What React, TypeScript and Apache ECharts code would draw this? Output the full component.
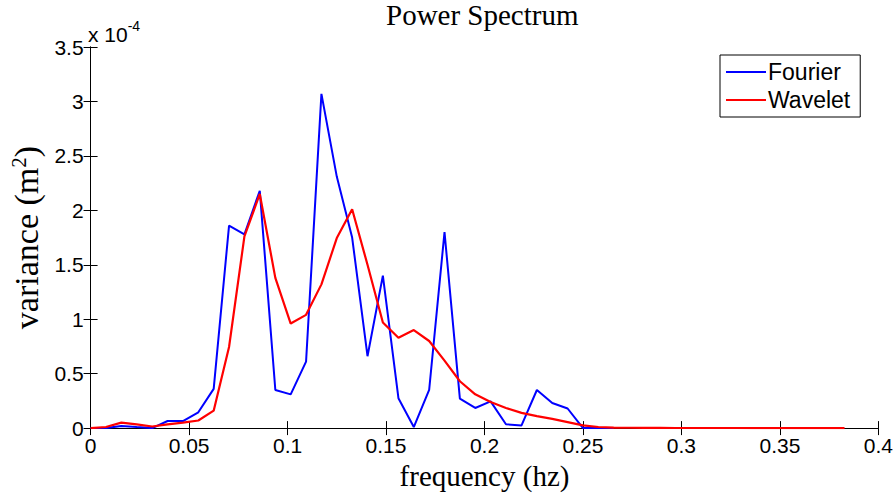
import React, { useEffect, useRef } from "react";
import * as echarts from "echarts";

// frequency grid (Hz)
const frequencies = [
  0, 0.0078, 0.0156, 0.0234, 0.0313, 0.0391, 0.0469, 0.0547, 0.0625, 0.0703,
  0.0781, 0.0859, 0.0938, 0.1016, 0.1094, 0.1172, 0.125, 0.1328, 0.1406, 0.1484,
  0.1563, 0.1641, 0.1719, 0.1797, 0.1875, 0.1953, 0.2031, 0.2109, 0.2188, 0.2266,
  0.2344, 0.2422, 0.25, 0.2578, 0.2656, 0.2734, 0.2813, 0.2891, 0.2969, 0.3047,
  0.3125, 0.3203, 0.3281, 0.3359, 0.3438, 0.3516, 0.3594, 0.3672, 0.375, 0.3828,
];

// variance, in units of 1e-4 m^2
const fourierVariance = [
  0, 0.0, 0.02, 0.01, 0.0, 0.065, 0.065, 0.145, 0.36, 1.86,
  1.78, 2.18, 0.35, 0.31, 0.61, 3.07, 2.31, 1.75, 0.66, 1.4,
  0.275, 0.01, 0.35, 1.8, 0.27, 0.185, 0.245, 0.035, 0.025, 0.35,
  0.23, 0.18, 0.0, 0.0, 0.0,
];

const waveletVariance = [
  0, 0.01, 0.05, 0.035, 0.015, 0.035, 0.05, 0.07, 0.16, 0.745,
  1.76, 2.15, 1.38, 0.96, 1.04, 1.32, 1.745, 2.01, 1.5, 0.97,
  0.83, 0.9, 0.8, 0.62, 0.43, 0.31, 0.24, 0.185, 0.14, 0.11,
  0.085, 0.055, 0.025, 0.01, 0.005, 0.003, 0.002, 0.002, 0.001, 0.001,
  0.001, 0.001, 0.001, 0.0005, 0.0005, 0.0005, 0.0003, 0.0003, 0.0002, 0.0002,
];

const seriesNames = ["Fourier", "Wavelet"];
const titleText = "Power Spectrum";
const xAxisName = "frequency (hz)";
const xMin = 0, xMax = 0.4, xStep = 0.05;
const yMin = 0, yMax = 3.5, yStep = 0.5;

const pairs = (xs: number[], ys: number[]) => ys.map((y, i) => [xs[i], y]);

const SANS = "Arial, 'Liberation Sans', sans-serif";
const SERIF = "'Times New Roman', 'Liberation Serif', serif";
const LINE_ICON = "path://M0,0 H40 V2 H0 Z";

export default function App() {
  const ref = useRef<HTMLDivElement>(null);
  useEffect(() => {
    document.body.style.margin = "0";
    const chart = echarts.init(ref.current!, undefined, { renderer: "svg" });
    const tickCommon = { show: true, inside: true, length: 7, lineStyle: { color: "#000", width: 1 } };
    const lineCommon = { show: true, lineStyle: { color: "#000", width: 1 } };
    chart.setOption({
      animation: false,
      backgroundColor: "#fff",
      title: {
        text: titleText,
        left: 386,
        top: 0,
        padding: 0,
        textStyle: { fontFamily: SERIF, fontSize: 29, fontWeight: "normal", color: "#000" },
      },
      graphic: [
        {
          type: "text",
          x: 88,
          y: 19,
          style: {
            text: "{a|x 10}{s|-4}",
            rich: {
              a: { fontFamily: SANS, fontSize: 21, fill: "#000", verticalAlign: "bottom" },
              s: { fontFamily: SANS, fontSize: 14, fill: "#000", verticalAlign: "top", padding: [0, 0, 12, 0] },
            },
          },
        },
      ],
      legend: {
        data: [
          { name: seriesNames[0], icon: LINE_ICON },
          { name: seriesNames[1], icon: LINE_ICON },
        ],
        orient: "vertical",
        left: 720,
        top: 55,
        backgroundColor: "#fff",
        borderColor: "#000",
        borderWidth: 1,
        padding: [4, 10, 4, 6],
        itemGap: 2,
        itemWidth: 40,
        itemHeight: 2,
        textStyle: { fontFamily: SANS, fontSize: 23, lineHeight: 26, color: "#000", padding: [0, 0, 0, -3] },
      },
      grid: { left: 89, right: 17, top: 47, bottom: 63, containLabel: false },
      xAxis: [
        {
          type: "value",
          min: xMin,
          max: xMax,
          interval: xStep,
          name: xAxisName,
          nameLocation: "middle",
          nameGap: 27,
          nameTextStyle: { fontFamily: SERIF, fontSize: 29, color: "#000" },
          axisLine: lineCommon,
          axisTick: tickCommon,
          axisLabel: { fontFamily: SANS, fontSize: 21, color: "#000", margin: 7 },
          splitLine: { show: false },
        },
        {
          type: "value",
          position: "top",
          min: xMin,
          max: xMax,
          interval: xStep,
          axisLine: lineCommon,
          axisTick: tickCommon,
          axisLabel: { show: false },
          splitLine: { show: false },
        },
      ],
      yAxis: [
        {
          type: "value",
          min: yMin,
          max: yMax,
          interval: yStep,
          name: "{a|variance (m}{s|2}{a|)}",
          nameLocation: "middle",
          nameGap: 40,
          nameRotate: 90,
          nameTextStyle: {
            rich: {
              a: { fontFamily: SERIF, fontSize: 34, color: "#000" },
              s: { fontFamily: SERIF, fontSize: 21, color: "#000", verticalAlign: "top", padding: [0, 0, 16, 0] },
            },
          },
          axisLine: lineCommon,
          axisTick: tickCommon,
          axisLabel: { fontFamily: SANS, fontSize: 21, color: "#000", margin: 7 },
          splitLine: { show: false },
        },
        {
          type: "value",
          position: "right",
          min: yMin,
          max: yMax,
          interval: yStep,
          axisLine: lineCommon,
          axisTick: tickCommon,
          axisLabel: { show: false },
          splitLine: { show: false },
        },
      ],
      series: [
        {
          name: seriesNames[0],
          type: "line",
          data: pairs(frequencies, fourierVariance),
          symbol: "none",
          lineStyle: { color: "#0000ff", width: 2 },
          itemStyle: { color: "#0000ff" },
          z: 2,
        },
        {
          name: seriesNames[1],
          type: "line",
          data: pairs(frequencies, waveletVariance),
          symbol: "none",
          lineStyle: { color: "#ff0000", width: 2.2 },
          itemStyle: { color: "#ff0000" },
          z: 3,
        },
      ],
    });
    return () => chart.dispose();
  }, []);
  return <div ref={ref} style={{ width: 896, height: 495 }} />;
}
